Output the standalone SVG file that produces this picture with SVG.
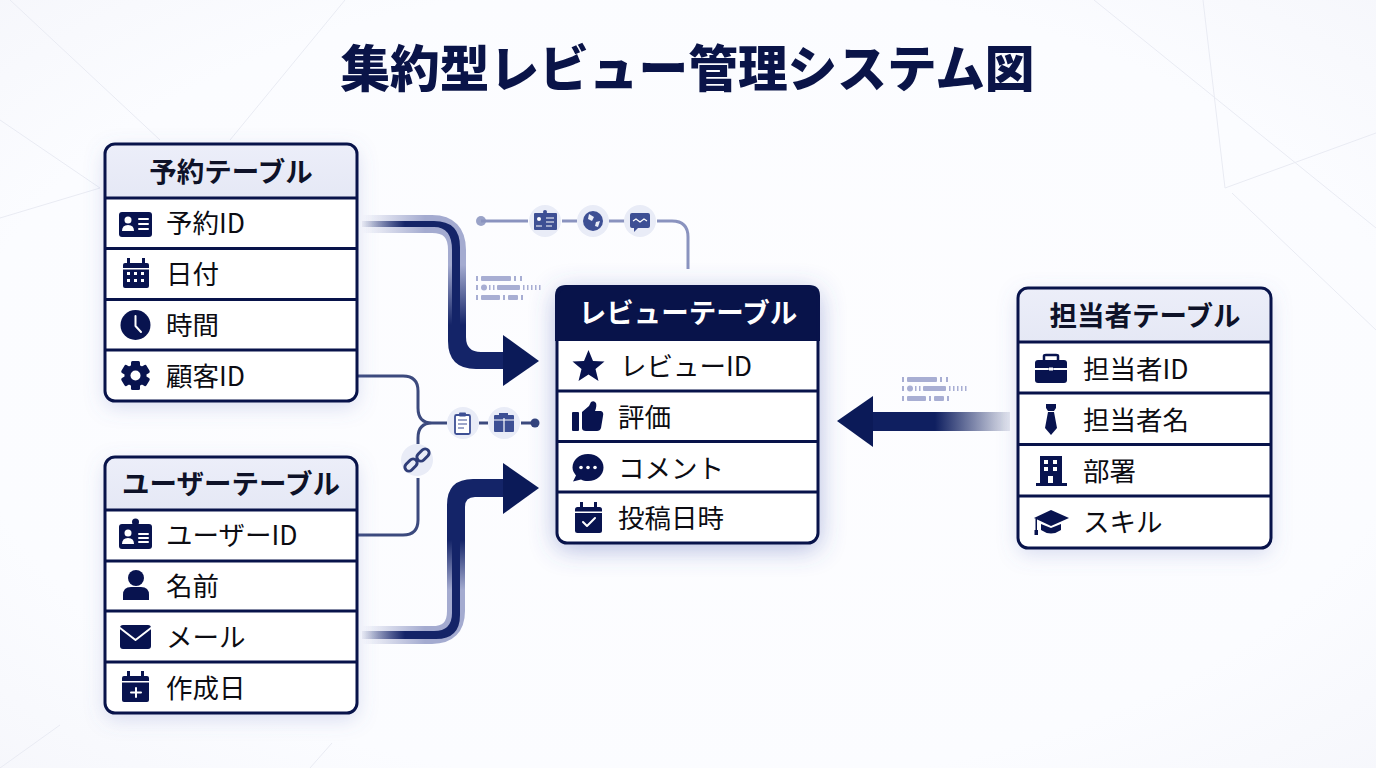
<svg xmlns="http://www.w3.org/2000/svg" width="1376" height="768" viewBox="0 0 1376 768">
<style>
text{font-family:"Noto Sans CJK JP","Noto Sans",sans-serif}
.title{font-size:49.700px;font-weight:900;fill:#0a1448;text-anchor:middle}
.head{font-size:27.500px;font-weight:700;fill:#0e1228;text-anchor:middle}
.headw{fill:#fff}
.row{font-size:26.500px;font-weight:400;fill:#0c0c12}
.frame{fill:none;stroke:#08134a;stroke-width:3}
.body{fill:#fff}
.div{stroke:#08134a;stroke-width:3}
.i{fill:#08134f}
.w{fill:#fff}
.wl{stroke:#fff;fill:none;stroke-width:2;stroke-linecap:round;stroke-linejoin:round}
.bg{stroke:#e9ebf3;stroke-width:1;fill:none}
.thin{fill:none;stroke:#3c4a7e;stroke-width:3}
.thin2{fill:none;stroke:#8a93bf;stroke-width:3}
.disc{fill:#e9ecf7}
.s{fill:#3d4f94}
.sl{stroke:#3d4f94;fill:none;stroke-width:2}
.sw{stroke:#fff;fill:none;stroke-width:1.2}
.tk{fill:#a8aed3}
</style>
<defs>
<radialGradient id="bgg" cx="50%" cy="50%" r="75%"><stop offset="0" stop-color="#fdfdff"/><stop offset="0.7" stop-color="#fbfcff"/><stop offset="1" stop-color="#f5f6fb"/></radialGradient>
<linearGradient id="hd" x1="0" y1="0" x2="0" y2="1"><stop offset="0" stop-color="#eceef9"/><stop offset="1" stop-color="#e5e8f5"/></linearGradient>
<linearGradient id="h1" gradientUnits="userSpaceOnUse" x1="362" y1="0" x2="425" y2="0"><stop offset="0" stop-color="#a4abd0" stop-opacity="0"/><stop offset="1" stop-color="#a4abd0"/></linearGradient>
<linearGradient id="c1" gradientUnits="userSpaceOnUse" x1="362" y1="0" x2="405" y2="0"><stop offset="0" stop-color="#1a2a70" stop-opacity="0.05"/><stop offset="1" stop-color="#142468"/></linearGradient>
<linearGradient id="c2" gradientUnits="userSpaceOnUse" x1="935" y1="0" x2="1010" y2="0"><stop offset="0" stop-color="#0f1f60"/><stop offset="1" stop-color="#0f1f60" stop-opacity="0.1"/></linearGradient>
<linearGradient id="fade1" gradientUnits="userSpaceOnUse" x1="0" y1="265" x2="0" y2="325"><stop offset="0" stop-color="#a4abd0"/><stop offset="1" stop-color="#142468"/></linearGradient>
<linearGradient id="fade2" gradientUnits="userSpaceOnUse" x1="0" y1="590" x2="0" y2="540"><stop offset="0" stop-color="#a4abd0"/><stop offset="1" stop-color="#142468"/></linearGradient>
<filter id="sh" x="-25%" y="-25%" width="150%" height="150%"><feDropShadow dx="0" dy="6" stdDeviation="10" flood-color="#6a78c0" flood-opacity="0.25"/></filter>
<filter id="sh2" x="-25%" y="-25%" width="150%" height="150%"><feDropShadow dx="0" dy="5" stdDeviation="13" flood-color="#4a5ab0" flood-opacity="0.42"/></filter>
<g id="ticks">
<rect class="tk" x="0" y="0" width="2" height="5"/><rect class="tk" x="5" y="0" width="30" height="5" rx="1"/><rect class="tk" x="38" y="0" width="2" height="5"/><rect class="tk" x="44" y="0" width="2" height="5"/>
<rect class="tk" x="0" y="9" width="2" height="5"/><circle class="tk" cx="8" cy="11.500" r="3"/><rect class="tk" x="13" y="9" width="1.500" height="5"/><rect class="tk" x="17" y="9" width="1.500" height="5"/><rect class="tk" x="21" y="9" width="23" height="5" rx="1"/><rect class="tk" x="47" y="9" width="1.500" height="5"/><rect class="tk" x="51" y="9" width="1.500" height="5"/><rect class="tk" x="55" y="9" width="1.500" height="5"/><rect class="tk" x="59" y="9" width="1.500" height="5"/><rect class="tk" x="63" y="9" width="1.500" height="5"/>
<rect class="tk" x="0" y="19" width="2" height="5"/><rect class="tk" x="5" y="19" width="19" height="5" rx="1"/><rect class="tk" x="27" y="19" width="2" height="5"/><rect class="tk" x="32" y="19" width="10" height="5" rx="1"/><rect class="tk" x="45" y="19" width="2" height="5"/>
</g>
</defs>

<rect width="1376" height="768" fill="url(#bgg)"/>
<g id="background-lines">
<path class="bg" d="M1094 0L1376 228M1203 0L1225 188L1376 133M1232 193L1376 330M10 0L160 140M345 0L230 140M0 120L100 188L0 218M0 768L60 725M310 768L332 743"/>
</g>

<text class="title" x="687.500" y="87">集約型レビュー管理システム図</text>

<g id="connectors">
<g id="flow-reservation">
<path d="M362 224H432Q457 224 457 250V270" fill="none" stroke="url(#h1)" stroke-width="18"/>
<rect x="448" y="265" width="18" height="65" fill="url(#fade1)"/>
<path d="M362 221H434Q460 221 460 247V325H466V337Q466 352 481 352H510V369H476Q448 369 448 341V325H452V250Q452 227 434 227H362Z" fill="url(#c1)"/>
<path d="M503 335L539 361L503 386Z" fill="#0b1a58"/>
</g>
<g id="flow-user">
<path d="M362 635H432Q456 635 456 611V590" fill="none" stroke="url(#h1)" stroke-width="18"/>
<rect x="447" y="535" width="18" height="60" fill="url(#fade2)"/>
<path d="M362 631H434Q452 631 452 613V540H447V505Q447 479 473 479H510V497H475Q465 497 465 507V540H460V615Q460 639 436 639H362Z" fill="url(#c1)"/>
<path d="M503 463L539 488L503 514Z" fill="#0b1a58"/>
</g>
<g id="flow-staff">
<rect x="870" y="412" width="140" height="19" fill="url(#c2)"/>
<path d="M873 396V447L837 421Z" fill="#0b1a58"/>
</g>
<use href="#ticks" x="476" y="276"/>
<use href="#ticks" x="902" y="377"/>
<g id="link-top">
<circle cx="481" cy="221" r="5" fill="#9aa3c8"/>
<path class="thin2" d="M481 221H528M562 221H577M609 221H625M657 221H672Q688 221 688 237V269"/>
<circle class="disc" cx="545" cy="221" r="16"/>
<rect class="s" x="534" y="213" width="23" height="17" rx="1"/><circle class="s" cx="545" cy="212" r="2"/><circle cx="539" cy="219" r="2" fill="#fff"/><path class="sw" d="M536 226h6M546 218h8M546 222h8M546 226h6"/>
<circle class="disc" cx="593" cy="221" r="16"/>
<circle class="s" cx="593" cy="221" r="10"/><path d="M589 214l5 3-2 4-4-2zM596 222l4-1-2 6-3-1z" fill="#e9ecf7"/>
<circle class="disc" cx="640" cy="221" r="16"/>
<path class="s" d="M632 213H648Q650 213 650 215V226Q650 228 648 228H638L634 232V228H632Q630 228 630 226V215Q630 213 632 213Z"/><path class="sw" d="M633 221l3-2 4 3 4-3 3 2"/>
</g>
<g id="link-lower">
<path class="thin" d="M357 376H403Q418 376 418 391V408Q418 423 432 423H447M432 423Q418 423 418 438V444M418 478V520Q418 535 403 535H357M479 423H488M521 423H533"/>
<circle cx="535" cy="423" r="4.500" fill="#34437c"/>
<circle class="disc" cx="463" cy="423" r="16"/>
<rect x="455" y="415" width="15" height="19" rx="1.500" fill="#fff" stroke="#3d4f94" stroke-width="1.800"/><rect class="s" x="459" y="412.500" width="7" height="4" rx="1"/><path d="M458 420h9M458 424h9M458 428h6" stroke="#3d4f94" stroke-width="1.200" fill="none"/>
<circle class="disc" cx="504" cy="423" r="16"/>
<rect class="s" x="494" y="415" width="20" height="17" rx="1"/><rect class="s" x="499" y="413" width="9" height="3"/><path class="sw" d="M504 418V432M494 420H514"/>
<circle class="disc" cx="417" cy="460" r="16"/>
<g fill="none" stroke="#2f3d78" stroke-width="3"><rect x="404" y="461" width="14" height="8" rx="4" transform="rotate(-45 411 465)"/><rect x="416" y="451" width="14" height="8" rx="4" transform="rotate(-45 423 455)"/></g>
</g>
</g>

<g id="table-reservation">
<g filter="url(#sh)"><rect class="body" x="105" y="144" width="252" height="257" rx="10"/></g>
<path d="M115 144H347Q357 144 357 154V198H105V154Q105 144 115 144Z" fill="url(#hd)"/>
<rect class="frame" x="105" y="144" width="252" height="257" rx="10"/>
<path class="div" d="M105 198H357M105 248.500H357M105 299.500H357M105 350H357"/>
<text class="head" x="231" y="182">予約テーブル</text>
<text class="row" x="166" y="233">予約ID</text><text class="row" x="166" y="284">日付</text><text class="row" x="166" y="335">時間</text><text class="row" x="166" y="386">顧客ID</text>
<rect class="i" x="119" y="212" width="33" height="25" rx="3"/><circle class="w" cx="128" cy="220" r="3.500"/><path class="w" d="M122 231Q122 225 128 225Q134 225 134 231Z"/><path class="wl" d="M139 219H148M139 224H148M139 229H148" stroke-width="1.500"/>
<path class="i" d="M125 263H147Q149 263 149 265V286Q149 288 147 288H125Q123 288 123 286V265Q123 263 125 263Z"/><rect class="i" x="127" y="258" width="3" height="7"/><rect class="i" x="142" y="258" width="3" height="7"/><rect class="w" x="123" y="268" width="26" height="1.500"/><g class="w"><rect x="127" y="272" width="3" height="3"/><rect x="134" y="272" width="3" height="3"/><rect x="141" y="272" width="3" height="3"/><rect x="127" y="279" width="3" height="3"/><rect x="134" y="279" width="3" height="3"/><rect x="141" y="279" width="3" height="3"/></g>
<circle class="i" cx="135.500" cy="325" r="15"/><path class="wl" d="M135.500 316V326L141 332" stroke-width="3"/>
<g class="i"><rect x="131" y="361" width="9" height="29" rx="1.500"/><rect x="131" y="361" width="9" height="29" rx="1.500" transform="rotate(60 135.500 375.500)"/><rect x="131" y="361" width="9" height="29" rx="1.500" transform="rotate(120 135.500 375.500)"/><circle cx="135.500" cy="375.500" r="11"/></g><circle class="w" cx="135.500" cy="375.500" r="5"/>
</g>

<g id="table-user">
<g filter="url(#sh)"><rect class="body" x="105" y="457" width="252" height="256" rx="10"/></g>
<path d="M115 457H347Q357 457 357 467V510H105V467Q105 457 115 457Z" fill="url(#hd)"/>
<rect class="frame" x="105" y="457" width="252" height="256" rx="10"/>
<path class="div" d="M105 510H357M105 561H357M105 611H357M105 662H357"/>
<text class="head" x="231" y="494">ユーザーテーブル</text>
<text class="row" x="166" y="545">ユーザーID</text><text class="row" x="166" y="596">名前</text><text class="row" x="166" y="647">メール</text><text class="row" x="166" y="698">作成日</text>
<rect class="i" x="119" y="524" width="33" height="25" rx="3"/><circle class="i" cx="135.500" cy="522" r="3.500"/><circle class="w" cx="128" cy="533" r="3.500"/><path class="w" d="M122 544Q122 538 128 538Q134 538 134 544Z"/><path class="wl" d="M139 534H148M139 538H148M139 542H148" stroke-width="1.500"/>
<circle class="i" cx="136" cy="578" r="8"/><path class="i" d="M123 600V595Q123 587 131 587H141Q149 587 149 595V600Z"/>
<rect class="i" x="120" y="625" width="31" height="24" rx="3"/><path class="wl" d="M120 628L135.500 640L151 628"/>
<rect class="i" x="122" y="676" width="27" height="26" rx="2"/><rect class="i" x="127" y="671" width="3" height="7"/><rect class="i" x="141" y="671" width="3" height="7"/><rect class="w" x="122" y="681" width="27" height="1.500"/><path class="wl" d="M136 688V697M131 692.500H141" stroke-width="2.500"/>
</g>

<g id="table-review">
<g filter="url(#sh2)"><rect class="body" x="556" y="286" width="263" height="258" rx="10"/></g>
<path d="M566 285H809Q820 285 820 296V341H555V296Q555 285 566 285Z" fill="#08134a"/>
<rect class="frame" x="557" y="287" width="261" height="256" rx="10"/>
<path class="div" d="M557 391H818M557 441.500H818M557 492H818"/>
<text class="head headw" x="688" y="323">レビューテーブル</text>
<text class="row" x="620" y="376">レビューID</text><text class="row" x="618" y="427">評価</text><text class="row" x="618" y="478">コメント</text><text class="row" x="618" y="528">投稿日時</text>
<path class="i" d="M588.500 350L593 361L604.500 361.500L595.500 369L598.500 381L588.500 374.500L578.500 381L581.500 369L572.500 361.500L584 361Z"/>
<rect class="i" x="572" y="412" width="7" height="19" rx="1"/><path class="i" d="M582 412L589 406L591 402Q594 400 596 403Q597 406 595 411H601Q604 412 603 416L601 428Q600 431 597 431H586Q582 431 582 428Z"/>
<path class="i" d="M588 454C597 454 603.500 460 603.500 467.500C603.500 475 597 481 588 481C585 481 583 480.500 581 479.500L573 481.500L576 475.500C574 473 572.500 470.500 572.500 467.500C572.500 460 579 454 588 454Z"/><circle class="w" cx="581" cy="467.500" r="1.800"/><circle class="w" cx="588" cy="467.500" r="1.800"/><circle class="w" cx="595" cy="467.500" r="1.800"/>
<rect class="i" x="575" y="507" width="27" height="26" rx="2.500"/><rect class="i" x="580" y="502" width="3" height="7"/><rect class="i" x="594" y="502" width="3" height="7"/><rect class="w" x="575" y="511.500" width="27" height="1.500"/><path class="wl" d="M583 522L587 526L595 518" stroke-width="2.400"/>
</g>

<g id="table-staff">
<g filter="url(#sh)"><rect class="body" x="1018" y="288" width="253" height="260" rx="10"/></g>
<path d="M1028 288H1261Q1271 288 1271 298V342H1018V298Q1018 288 1028 288Z" fill="url(#hd)"/>
<rect class="frame" x="1018" y="288" width="253" height="260" rx="10"/>
<path class="div" d="M1018 342H1271M1018 393H1271M1018 444.500H1271M1018 496H1271"/>
<text class="head" x="1145" y="326">担当者テーブル</text>
<text class="row" x="1083" y="379">担当者ID</text><text class="row" x="1083" y="430">担当者名</text><text class="row" x="1083" y="481">部署</text><text class="row" x="1083" y="532">スキル</text>
<rect class="i" x="1035" y="360" width="32" height="23" rx="3"/><path d="M1044 360V356Q1044 355 1046 355H1056Q1058 355 1058 356V360" fill="none" stroke="#08134f" stroke-width="2.500"/><path class="wl" d="M1035 369H1048M1054 369H1067" stroke-width="1.500"/><rect class="w" x="1049" y="367.500" width="4" height="3"/>
<path class="i" d="M1046 404H1056V408L1054 411H1048L1046 408Z"/><path class="i" d="M1048 412H1054L1057 428L1051 435L1045 428Z"/>
<path class="i" d="M1040 456H1062V483H1067V486H1036V483H1040Z"/><g class="w"><rect x="1044" y="460" width="4" height="4"/><rect x="1053" y="460" width="4" height="4"/><rect x="1044" y="467" width="4" height="4"/><rect x="1053" y="467" width="4" height="4"/></g><rect class="w" x="1048" y="476" width="5" height="7"/>
<path class="i" d="M1051 510L1069 518L1051 526L1034 518Z"/><path class="i" d="M1041 524L1051 528L1061 524V530Q1051 537 1041 530Z"/><rect class="i" x="1035.500" y="519" width="1.500" height="12"/><rect class="i" x="1034.500" y="530" width="3.500" height="5"/>
</g>
</svg>
